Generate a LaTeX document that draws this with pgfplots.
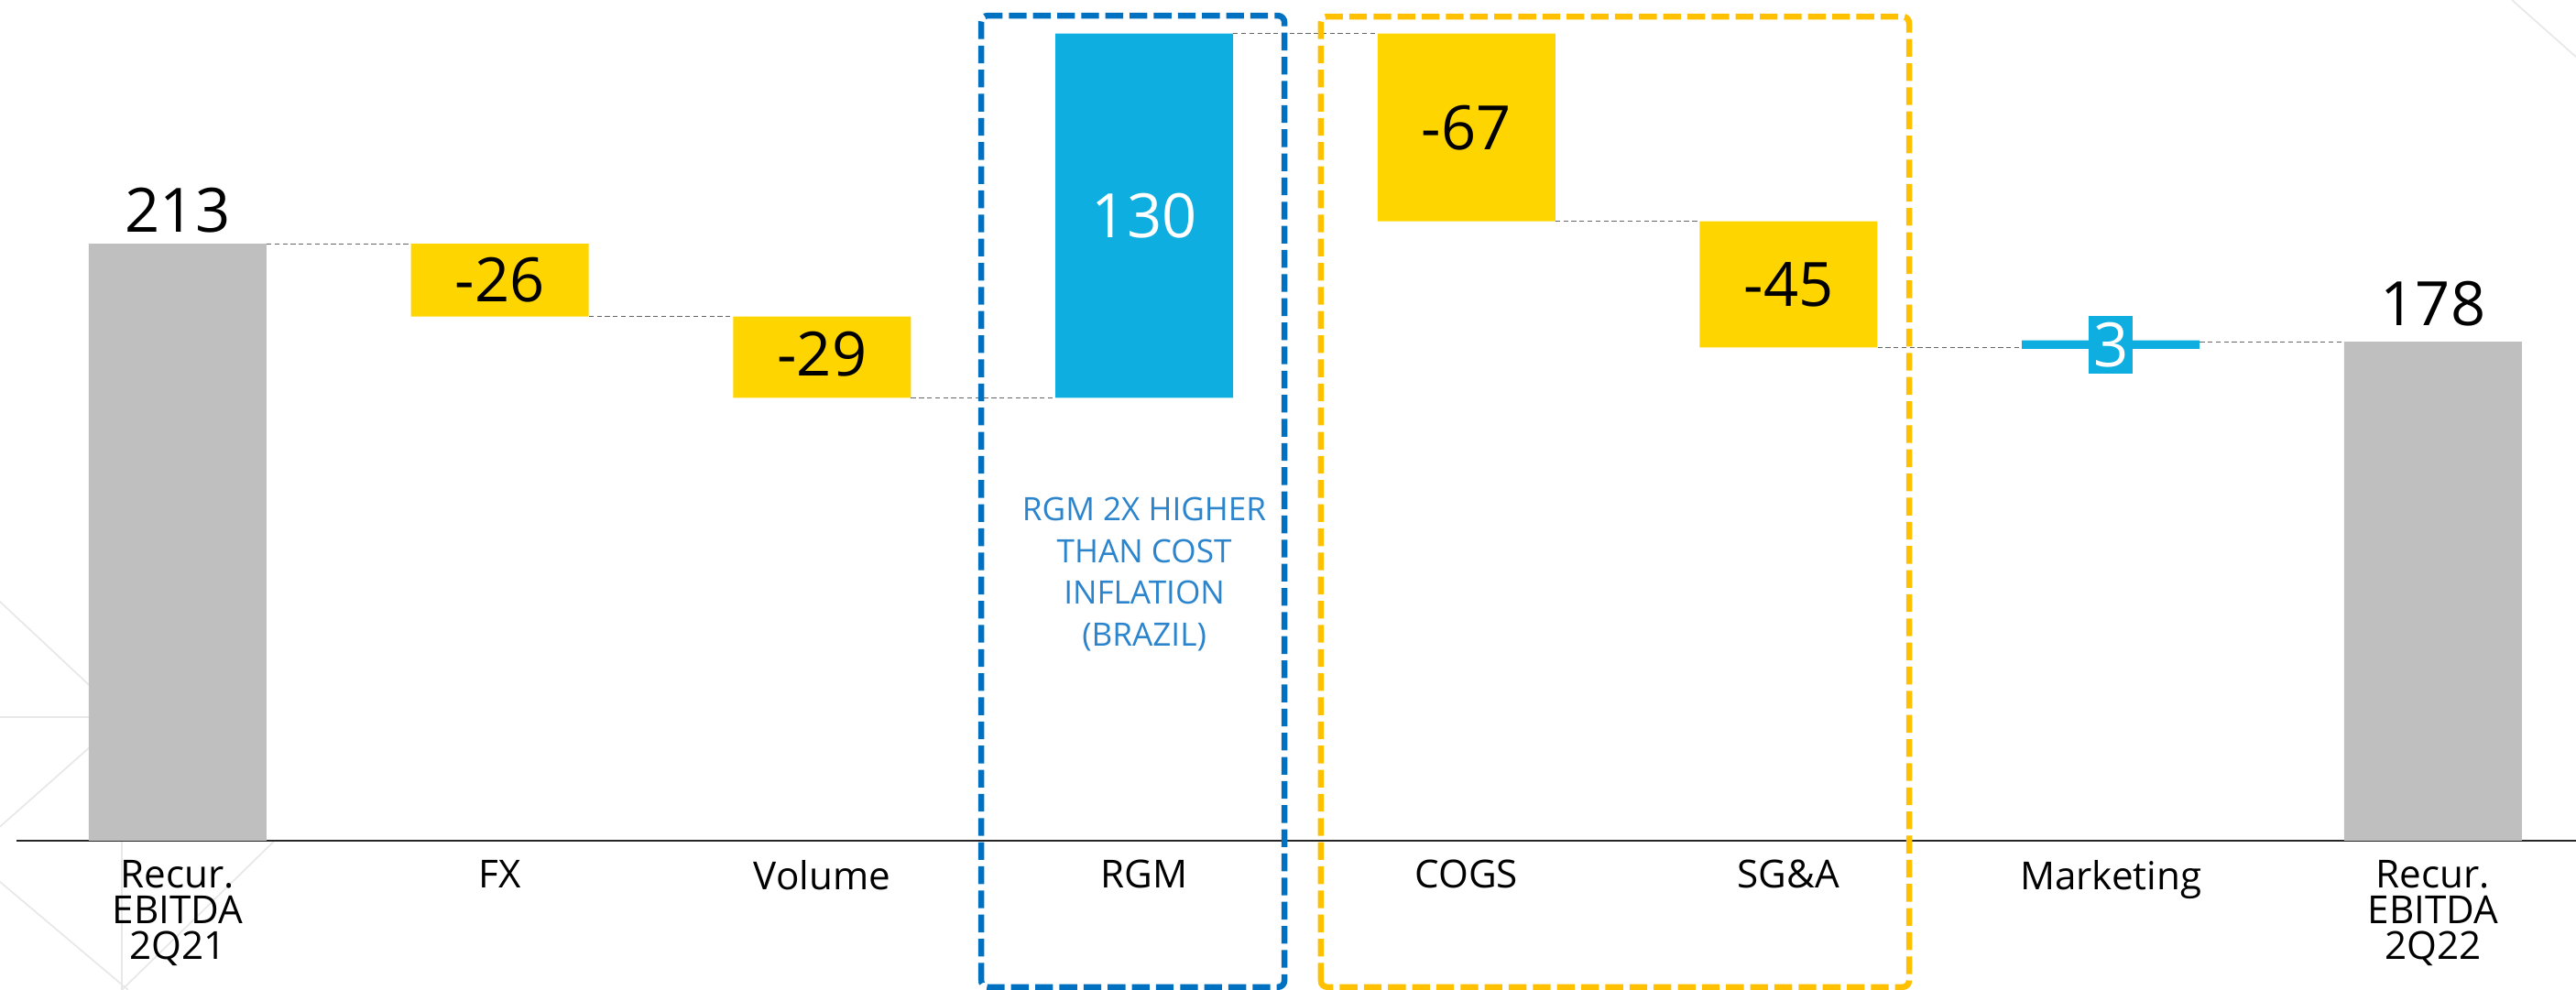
\documentclass[border=0pt]{standalone}
\usepackage{pgfplots}
\pgfplotsset{compat=1.18}
\usepackage{pgfplotstable}
\usepackage{fontspec}
\setmainfont{Open Sans}
\definecolor{barGray}{HTML}{BFBFBF}
\definecolor{barYellow}{HTML}{FFD500}
\definecolor{barBlue}{HTML}{0EAFE0}
\definecolor{boxBlue}{HTML}{0070C0}
\definecolor{boxYellow}{HTML}{FFC000}
\definecolor{noteBlue}{HTML}{2B84CC}
\definecolor{bgLine}{HTML}{E8E8E8}

\pgfplotstableread{
x base gray yellow blue
0 0     213 0  0
1 187   0   26 0
2 158   0   29 0
3 158   0   0  130
4 221   0   67 0
5 176   0   45 0
6 175.5 0   0  3
7 0     178 0  0
}\wfdata

\pgfplotsset{common/.style={
  x=3.517cm, y=0.0306cm,
  xmin=-0.5, xmax=7.45, ymin=0, ymax=300,
  clip=false, at={(0,0)}, anchor=south west,
}}

\begin{document}
\begin{tikzpicture}
% background layer
\begin{axis}[common, hide axis]
\draw[bgLine, line width=0.5pt] (axis cs:-0.552,85.3) -- (axis cs:-0.276,55.6);
\draw[bgLine, line width=0.5pt] (axis cs:-0.552,44.1) -- (axis cs:-0.276,44.1);
\draw[bgLine, line width=0.5pt] (axis cs:-0.276,33) -- (axis cs:-0.552,4.9);
\draw[bgLine, line width=0.5pt] (axis cs:-0.173,0) -- (axis cs:-0.173,-53.3);
\draw[bgLine, line width=0.5pt] (axis cs:-0.552,-14.7) -- (axis cs:-0.154,-53.3);
\draw[bgLine, line width=0.5pt] (axis cs:0.301,0) -- (axis cs:-0.173,-53.3);
\draw[bgLine, line width=0.5pt] (axis cs:7.245,300) -- (axis cs:7.444,279.7);
\coordinate (PTL) at (axis cs:-0.5516,300);
\coordinate (PBR) at (axis cs:7.444,-53.27);
\end{axis}

% bars
\begin{axis}[common,
  axis y line=none,
  axis x line*=bottom,
  x axis line style={-, line width=0.6pt, black!85},
  ybar stacked,
  bar width=1.94cm,
  xtick={0,...,7},
  xticklabels={{Recur.\\EBITDA\\2Q21},FX,Volume,RGM,COGS,SG\&A,Marketing,{Recur.\\EBITDA\\2Q22}},
  xticklabel style={align=center, font=\fontsize{12}{11.2}\selectfont, text=black, yshift=-2.5pt},
  major tick length=0pt,
]
\addplot[draw=none, fill=none] table[x=x, y=base] {\wfdata};
\addplot[draw=none, fill=barGray] table[x=x, y=gray] {\wfdata};
\addplot[draw=none, fill=barYellow] table[x=x, y=yellow] {\wfdata};
\addplot[draw=none, fill=barBlue] table[x=x, y=blue] {\wfdata};
\end{axis}

% foreground
\begin{axis}[common, hide axis]
\tikzset{conn/.style={black!60, line width=0.35pt, dash pattern=on 1.5pt off 1pt}}
\draw[conn] (axis cs:0.276,213) -- (axis cs:0.724,213);
\draw[conn] (axis cs:1.276,187) -- (axis cs:1.724,187);
\draw[conn] (axis cs:2.276,158) -- (axis cs:2.724,158);
\draw[conn] (axis cs:3.276,288) -- (axis cs:3.724,288);
\draw[conn] (axis cs:4.276,221) -- (axis cs:4.724,221);
\draw[conn] (axis cs:5.276,176) -- (axis cs:5.724,176);
\draw[conn] (axis cs:6.276,178) -- (axis cs:6.724,178);

\draw[boxBlue, line width=1.85pt, dash pattern=on 5.5pt off 2pt, rounded corners=2pt]
  (axis cs:2.494,-52.3) rectangle (axis cs:3.435,294.4);
\draw[boxYellow, line width=1.85pt, dash pattern=on 5.5pt off 2pt, rounded corners=2pt]
  (axis cs:3.548,-52.3) rectangle (axis cs:5.374,294.1);

\tikzset{val/.style={font=\fontsize{19}{22}\selectfont, inner sep=0pt}}
\node[val] at (axis cs:0,225) {213};
\node[val] at (axis cs:1,200) {-26};
\node[val] at (axis cs:2,173.5) {-29};
\node[val, text=white] at (axis cs:3,223) {130};
\node[val] at (axis cs:4,254.5) {-67};
\node[val] at (axis cs:5,198.5) {-45};
\node[val, text=white, fill=barBlue, minimum width=0.48cm, minimum height=0.63cm] at (axis cs:6,177) {3};
\node[val] at (axis cs:7,191.5) {178};

\node[align=center, font=\fontsize{10}{13}\selectfont, text=noteBlue] at (axis cs:3,95)
  {RGM 2X HIGHER\\THAN COST\\INFLATION\\(BRAZIL)};
\end{axis}
\pgfresetboundingbox
\path[use as bounding box] (PTL) rectangle (PBR);
\end{tikzpicture}
\end{document}
